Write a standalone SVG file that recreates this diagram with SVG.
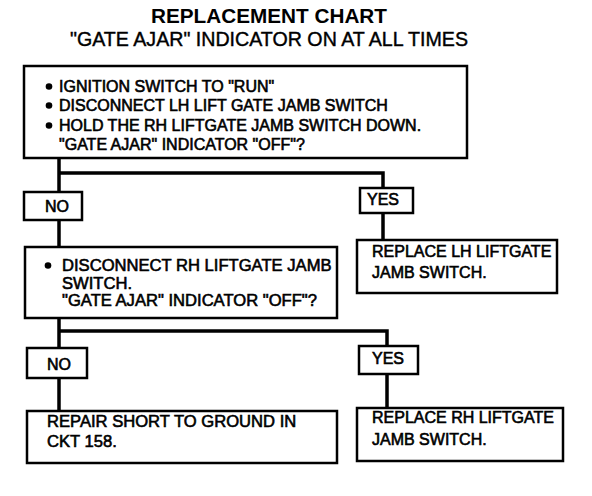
<svg xmlns="http://www.w3.org/2000/svg" width="592" height="496" viewBox="0 0 592 496">
<style>
  .box { fill: #fff; stroke: #000; stroke-width: 2.5; }
  .lbl { fill: #fff; stroke: #000; stroke-width: 2.5; }
  .t { font-family: "Liberation Sans", Arial, sans-serif; font-size: 16px; fill: #000; stroke: #000; stroke-width: 0.6; }
  .tb { font-size: 16.6px; }
  .title { font-family: "Liberation Sans", Arial, sans-serif; font-weight: bold; font-size: 21px; fill: #000; }
  .sub { font-family: "Liberation Sans", Arial, sans-serif; font-size: 19.5px; fill: #000; stroke: #000; stroke-width: 0.4; }
  .conn { fill: none; stroke: #000; stroke-width: 3.5; }
  .dot { fill: #000; }
</style>
<rect width="592" height="496" fill="#fff"/>
<g id="title">
  <text class="title" x="269" y="23" text-anchor="middle" textLength="236" lengthAdjust="spacingAndGlyphs">REPLACEMENT CHART</text>
  <text class="sub" x="269" y="46" text-anchor="middle" textLength="398" lengthAdjust="spacingAndGlyphs">"GATE AJAR" INDICATOR ON AT ALL TIMES</text>
</g>
<g id="connectors">
  <path class="conn" d="M59 158 V192 M59 173 H383 V188 M383 213 V240 M59 220 V247 M59 318 V348 M59 331 H387 V346 M387 374 V408 M59 378 V411"/>
</g>
<g id="step1">
  <rect class="box" x="24" y="66" width="443" height="92"/>
  <circle class="dot" cx="49" cy="86.5" r="3.3"/>
  <circle class="dot" cx="49" cy="105.5" r="3.3"/>
  <circle class="dot" cx="49" cy="125.5" r="3.3"/>
  <text class="t" x="59" y="92">IGNITION SWITCH TO "RUN"</text>
  <text class="t" x="59" y="111">DISCONNECT LH LIFT GATE JAMB SWITCH</text>
  <text class="t" x="59" y="131">HOLD THE RH LIFTGATE JAMB SWITCH DOWN.</text>
  <text class="t" x="59" y="150">"GATE AJAR" INDICATOR "OFF"?</text>
</g>
<g id="no1">
  <rect class="lbl" x="24" y="192" width="58" height="28"/>
  <text class="t" x="45" y="212">NO</text>
</g>
<g id="yes1">
  <rect class="lbl" x="360" y="188" width="53" height="25"/>
  <text class="t" x="367" y="205">YES</text>
</g>
<g id="step2">
  <rect class="box" x="25" y="247" width="312" height="71"/>
  <circle class="dot" cx="48" cy="265.5" r="3.3"/>
  <text class="t tb" x="62" y="271">DISCONNECT RH LIFTGATE JAMB</text>
  <text class="t tb" x="62" y="288.5">SWITCH.</text>
  <text class="t tb" x="62" y="306">"GATE AJAR" INDICATOR "OFF"?</text>
</g>
<g id="replaceLH">
  <rect class="box" x="357" y="240" width="200" height="53"/>
  <text class="t" x="372" y="257">REPLACE LH LIFTGATE</text>
  <text class="t" x="372" y="278">JAMB SWITCH.</text>
</g>
<g id="no2">
  <rect class="lbl" x="27" y="348" width="60" height="30"/>
  <text class="t" x="47" y="370">NO</text>
</g>
<g id="yes2">
  <rect class="lbl" x="359" y="346" width="59" height="28"/>
  <text class="t" x="372" y="364">YES</text>
</g>
<g id="repair">
  <rect class="box" x="27" y="411" width="310" height="52"/>
  <text class="t tb" x="47" y="427">REPAIR SHORT TO GROUND IN</text>
  <text class="t tb" x="47" y="447">CKT 158.</text>
</g>
<g id="replaceRH">
  <rect class="box" x="357" y="408" width="206" height="53"/>
  <text class="t" x="372" y="423">REPLACE RH LIFTGATE</text>
  <text class="t" x="372" y="445">JAMB SWITCH.</text>
</g>
</svg>
